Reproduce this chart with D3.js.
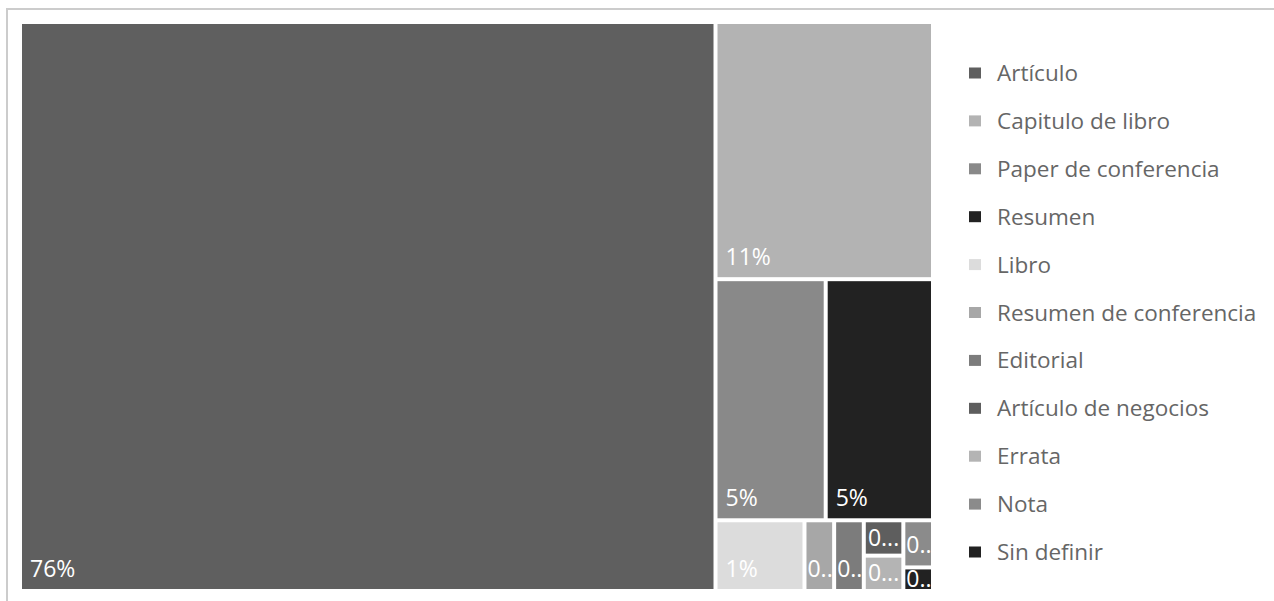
<!DOCTYPE html>
<html>
<head>
<meta charset="utf-8">
<script src="https://cdn.jsdelivr.net/npm/d3@7"></script>
<style>
  body { margin: 0; background: #ffffff; }
  svg { display: block; }
</style>
</head>
<body>
<svg id="chart" width="1274" height="601"></svg>
<script>
// Publication types and their counts
const categories = [
  "Artículo", "Capitulo de libro", "Paper de conferencia", "Resumen", "Libro",
  "Resumen de conferencia", "Editorial", "Artículo de negocios", "Errata", "Nota", "Sin definir"
];
const counts = [566, 80, 38, 37, 9, 3, 3, 2, 2, 2, 1];
const colors = [
  "#5f5f5f", "#b3b3b3", "#898989", "#222222", "#dcdcdc",
  "#a7a7a7", "#7c7c7c", "#5e5e5e", "#b4b4b4", "#8b8b8b", "#222222"
];

const FONT = '"Segoe UI", "Open Sans", "Noto Sans", sans-serif';
const svg = d3.select("#chart");

// Visual container border (top and left edges)
svg.append("path")
  .attr("d", "M7,620V9H1290")
  .attr("fill", "none")
  .attr("stroke", "#cccccc")
  .attr("stroke-width", 2);

const data = categories.map((name, i) => ({ name, value: counts[i], color: colors[i] }));
const total = d3.sum(counts);

// Squarified tiling that aims for cells a little taller than wide:
// squarify in a horizontally compressed space, then stretch back.
const cellAspect = 0.75;
const squarify = d3.treemapSquarify.ratio(1);
function tallSquarify(node, x0, y0, x1, y1) {
  squarify(node, x0 / cellAspect, y0, x1 / cellAspect, y1);
  for (const c of node.children) { c.x0 *= cellAspect; c.x1 *= cellAspect; }
}

const root = d3.hierarchy({ children: data })
  .sum(d => d.value || 0)
  .sort((a, b) => b.value - a.value);

d3.treemap()
  .size([909, 565])
  .paddingInner(4)
  .tile(tallSquarify)(root);

const plot = svg.append("g").attr("transform", "translate(22,24)");
const pct = v => Math.round(v / total * 100) + "%";

const cells = plot.selectAll("g.cell")
  .data(root.leaves())
  .join("g")
  .attr("class", "cell");

cells.append("clipPath")
  .attr("id", (d, i) => "clip" + i)
  .append("rect")
  .attr("x", d => d.x0).attr("y", d => d.y0)
  .attr("width", d => d.x1 - d.x0).attr("height", d => d.y1 - d.y0);

cells.append("rect")
  .attr("x", d => d.x0).attr("y", d => d.y0)
  .attr("width", d => d.x1 - d.x0).attr("height", d => d.y1 - d.y0)
  .attr("fill", d => d.data.color);

cells.append("text")
  .attr("clip-path", (d, i) => "url(#clip" + i + ")")
  .attr("font-family", FONT)
  .attr("font-size", 23)
  .attr("fill", "#ffffff")
  .each(function (d) {
    const t = d3.select(this);
    const w = d.x1 - d.x0;
    const full = pct(d.value);
    t.text(full);
    // shorten with an ellipsis when the label does not fit
    if (this.getComputedTextLength() > w - 16) {
      let s = full;
      while (s.length > 1) {
        s = s.slice(0, -1);
        t.text(s + "...");
        if (this.getComputedTextLength() <= w - 16) break;
      }
    }
    const tw = this.getComputedTextLength();
    const x = d.x0 + Math.max(1, Math.min(8, (w - tw) / 2));
    const y = Math.max(d.y1 - 12, (d.y0 + d.y1) / 2 + 8);
    t.attr("x", x).attr("y", y);
  });

// Legend
const legend = svg.append("g").attr("transform", "translate(969,73)");
const row = legend.selectAll("g")
  .data(data)
  .join("g")
  .attr("transform", (d, i) => `translate(0,${i * 47.9})`);

row.append("rect")
  .attr("x", 0).attr("y", -5.5)
  .attr("width", 12).attr("height", 11)
  .attr("fill", d => d.color);

row.append("text")
  .attr("x", 28).attr("y", 8)
  .attr("font-family", FONT)
  .attr("font-size", 22.5)
  .attr("fill", "#666666")
  .text(d => d.name);
</script>
</body>
</html>
